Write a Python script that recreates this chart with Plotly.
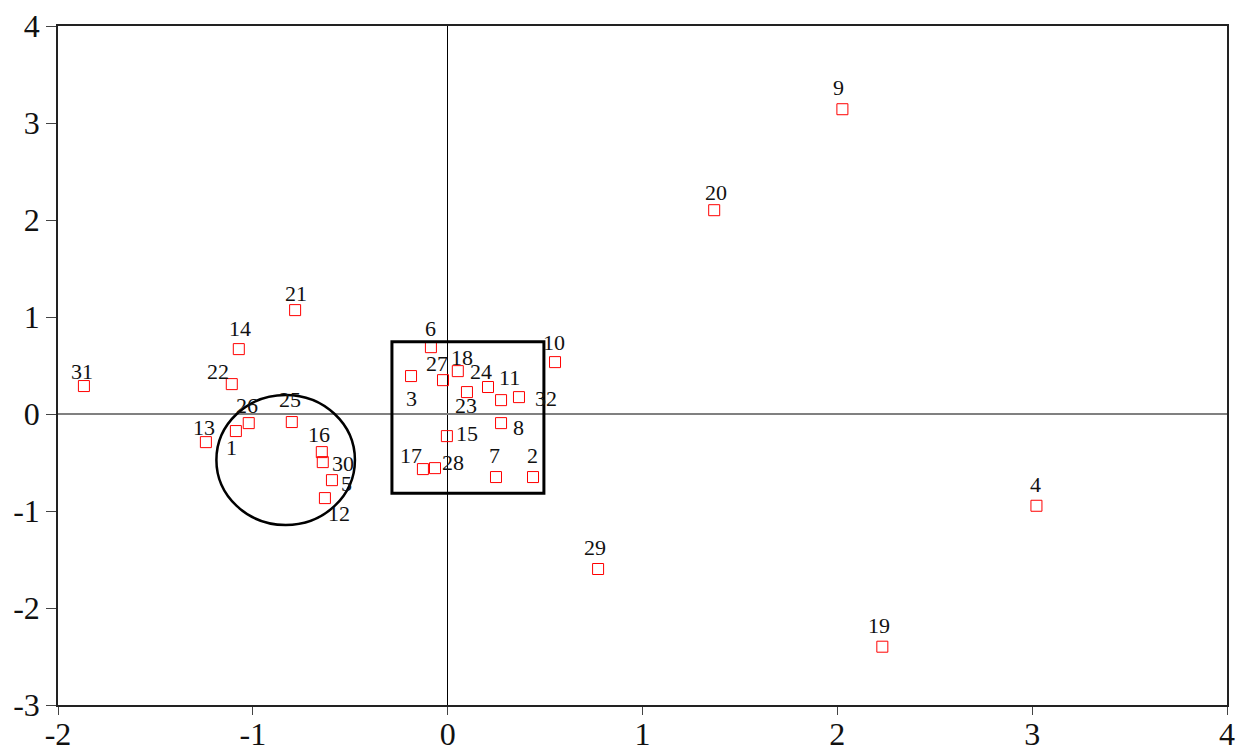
import plotly.graph_objects as go

labels = ["31", "14", "21", "22", "13", "1", "26", "25", "16", "30", "5", "12",
          "6", "3", "27", "18", "23", "24", "11", "32", "8", "15", "17", "28",
          "7", "2", "10", "20", "9", "4", "29", "19"]
x_vals = [-1.867, -1.072, -0.783, -1.108, -1.241, -1.087, -1.021, -0.800, -0.646, -0.641, -0.594, -0.630,
          -0.086, -0.188, -0.024, 0.052, 0.099, 0.207, 0.274, 0.366, 0.274, -0.004, -0.127, -0.065,
          0.248, 0.438, 0.551, 1.368, 2.026, 3.022, 0.772, 2.231]
y_vals = [0.288, 0.669, 1.071, 0.308, -0.290, -0.176, -0.094, -0.083, -0.393, -0.496, -0.682, -0.867,
          0.689, 0.391, 0.349, 0.442, 0.226, 0.278, 0.143, 0.174, -0.094, -0.228, -0.568, -0.558,
          -0.650, -0.650, 0.535, 2.101, 3.142, -0.946, -1.598, -2.399]

# label offsets from marker, in pixels (style): right = +dx, down = +dy
label_dx = [-2, 1, 1, -14, -2, -4, -2, -2, -3, 20, 15, 14,
            0, 0, -6, 4, -1, -7, 8, 27, 17, 20, -12, 18,
            -1, -1, -1, 2, -4, -1, -3, -3]
label_dy = [-15, -21, -17, -13, -15, 16, -18, -23, -18, 1, 3, 15,
            -19, 22, -17, -14, 13, -16, -23, 1, 4, -3, -14, -6,
            -22, -22, -20, -18, -22, -21, -22, -21]

x_ticks = [-2, -1, 0, 1, 2, 3, 4]
x_tick_text = ["-2", "-1", "0", "1", "2", "3", "4"]
y_ticks = [-3, -2, -1, 0, 1, 2, 3, 4]
y_tick_text = ["-3", "-2", "-1", "0", "1", "2", "3", "4"]

# highlighted regions
circle_box = [-1.187, -1.144, -0.476, 0.196]   # x0, y0, x1, y1
rect_box = [-0.286, -0.818, 0.494, 0.745]

fig = go.Figure()
fig.add_trace(go.Scatter(
    x=x_vals, y=y_vals, mode="markers",
    marker=dict(symbol="square-open", size=11, color="#ff0000", line=dict(width=1)),
    cliponaxis=False, showlegend=False, hoverinfo="text", text=labels,
))

for lab, xv, yv, dx, dy in zip(labels, x_vals, y_vals, label_dx, label_dy):
    fig.add_annotation(x=xv, y=yv, text=lab, showarrow=False,
                       xshift=dx, yshift=-dy,
                       font=dict(family="Liberation Serif", size=22, color="#111"))

fig.add_shape(type="circle", xref="x", yref="y",
              x0=circle_box[0], y0=circle_box[1], x1=circle_box[2], y1=circle_box[3],
              line=dict(color="black", width=2.5))
fig.add_shape(type="rect", xref="x", yref="y",
              x0=rect_box[0], y0=rect_box[1], x1=rect_box[2], y1=rect_box[3],
              line=dict(color="black", width=3))

axis_font = dict(family="Liberation Serif", size=32, color="#111")
fig.update_xaxes(range=[-2, 4], tickvals=x_ticks, ticktext=x_tick_text, showgrid=False,
                 zeroline=True, zerolinecolor="black", zerolinewidth=1,
                 showline=True, linecolor="#222", linewidth=1.5, mirror=True,
                 ticks="outside", ticklen=8, tickcolor="#444", tickwidth=1,
                 ticklabelstandoff=-8,
                 tickfont=axis_font, automargin=False)
fig.update_yaxes(range=[-3, 4], tickvals=y_ticks, ticktext=y_tick_text, showgrid=False,
                 zeroline=True, zerolinecolor="#808080", zerolinewidth=2,
                 showline=True, linecolor="#222", linewidth=1.5, mirror=True,
                 ticks="outside", ticklen=10, tickcolor="#444", tickwidth=1,
                 tickfont=axis_font, automargin=False)
fig.update_layout(width=1236, height=749, template="none",
                  paper_bgcolor="white", plot_bgcolor="white",
                  margin=dict(l=58, r=9, t=26, b=44))
fig.write_html("out.html", config={"displayModeBar": False},
               post_script="document.body.style.margin='0';document.body.style.overflow='hidden';")
